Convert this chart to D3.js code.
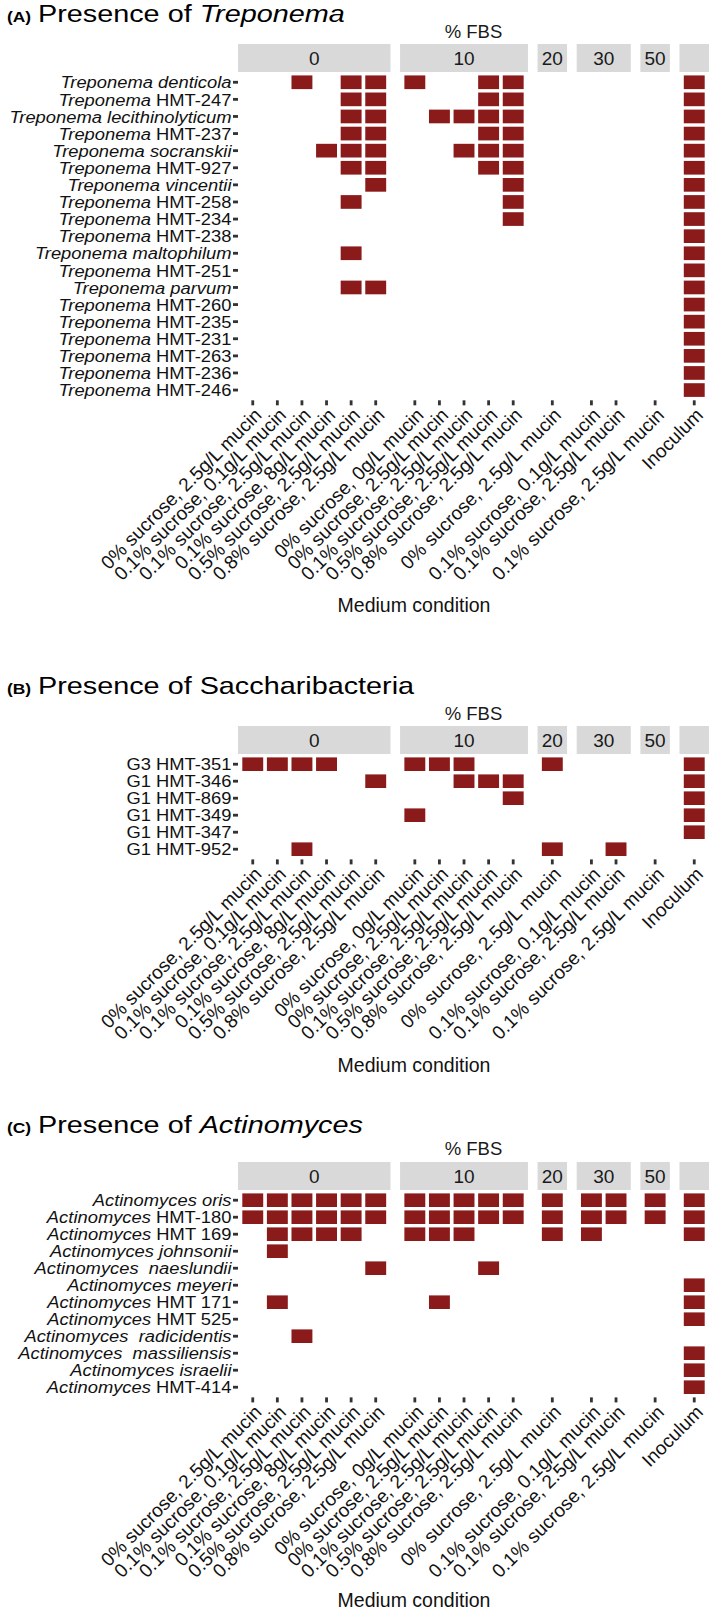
<!DOCTYPE html>
<html>
<head>
<meta charset="utf-8">
<script src="https://cdn.jsdelivr.net/npm/d3@7"></script>
<style>
body{margin:0;background:#fff;}
</style>
</head>
<body>
<div id="chart"></div>
<script>

// ---- data ----
var fbsLevels = ["0", "10", "20", "30", "50", ""];

var fbs0Conditions = ["0% sucrose, 2.5g/L mucin", "0.1% sucrose, 0.1g/L mucin", "0.1% sucrose, 2.5g/L mucin",
	"0.1% sucrose, 8g/L mucin", "0.5% sucrose, 2.5g/L mucin", "0.8% sucrose, 2.5g/L mucin"];
var fbs10Conditions = ["0% sucrose, 0g/L mucin", "0% sucrose, 2.5g/L mucin", "0.1% sucrose, 2.5g/L mucin",
	"0.5% sucrose, 2.5g/L mucin", "0.8% sucrose, 2.5g/L mucin"];
var fbs20Conditions = ["0% sucrose, 2.5g/L mucin"];
var fbs30Conditions = ["0.1% sucrose, 0.1g/L mucin", "0.1% sucrose, 2.5g/L mucin"];
var fbs50Conditions = ["0.1% sucrose, 2.5g/L mucin"];
var inoculumConditions = ["Inoculum"];

var treponemaTaxa = ["Treponema denticola", "Treponema HMT-247", "Treponema lecithinolyticum", "Treponema HMT-237",
	"Treponema socranskii", "Treponema HMT-927", "Treponema vincentii", "Treponema HMT-258", "Treponema HMT-234",
	"Treponema HMT-238", "Treponema maltophilum", "Treponema HMT-251", "Treponema parvum", "Treponema HMT-260",
	"Treponema HMT-235", "Treponema HMT-231", "Treponema HMT-263", "Treponema HMT-236", "Treponema HMT-246"];
// 16 columns: FBS0 x6 | FBS10 x5 | FBS20 | FBS30 x2 | FBS50 | Inoculum
var treponemaPresence = [
	[0,0,1,0,1,1, 1,0,0,1,1, 0, 0,0, 0, 1],
	[0,0,0,0,1,1, 0,0,0,1,1, 0, 0,0, 0, 1],
	[0,0,0,0,1,1, 0,1,1,1,1, 0, 0,0, 0, 1],
	[0,0,0,0,1,1, 0,0,0,1,1, 0, 0,0, 0, 1],
	[0,0,0,1,1,1, 0,0,1,1,1, 0, 0,0, 0, 1],
	[0,0,0,0,1,1, 0,0,0,1,1, 0, 0,0, 0, 1],
	[0,0,0,0,0,1, 0,0,0,0,1, 0, 0,0, 0, 1],
	[0,0,0,0,1,0, 0,0,0,0,1, 0, 0,0, 0, 1],
	[0,0,0,0,0,0, 0,0,0,0,1, 0, 0,0, 0, 1],
	[0,0,0,0,0,0, 0,0,0,0,0, 0, 0,0, 0, 1],
	[0,0,0,0,1,0, 0,0,0,0,0, 0, 0,0, 0, 1],
	[0,0,0,0,0,0, 0,0,0,0,0, 0, 0,0, 0, 1],
	[0,0,0,0,1,1, 0,0,0,0,0, 0, 0,0, 0, 1],
	[0,0,0,0,0,0, 0,0,0,0,0, 0, 0,0, 0, 1],
	[0,0,0,0,0,0, 0,0,0,0,0, 0, 0,0, 0, 1],
	[0,0,0,0,0,0, 0,0,0,0,0, 0, 0,0, 0, 1],
	[0,0,0,0,0,0, 0,0,0,0,0, 0, 0,0, 0, 1],
	[0,0,0,0,0,0, 0,0,0,0,0, 0, 0,0, 0, 1],
	[0,0,0,0,0,0, 0,0,0,0,0, 0, 0,0, 0, 1]
];

var saccharibacteriaTaxa = ["G3 HMT-351", "G1 HMT-346", "G1 HMT-869", "G1 HMT-349", "G1 HMT-347", "G1 HMT-952"];
var saccharibacteriaPresence = [
	[1,1,1,1,0,0, 1,1,1,0,0, 1, 0,0, 0, 1],
	[0,0,0,0,0,1, 0,0,1,1,1, 0, 0,0, 0, 1],
	[0,0,0,0,0,0, 0,0,0,0,1, 0, 0,0, 0, 1],
	[0,0,0,0,0,0, 1,0,0,0,0, 0, 0,0, 0, 1],
	[0,0,0,0,0,0, 0,0,0,0,0, 0, 0,0, 0, 1],
	[0,0,1,0,0,0, 0,0,0,0,0, 1, 0,1, 0, 0]
];

var actinomycesTaxa = ["Actinomyces oris", "Actinomyces HMT-180", "Actinomyces HMT 169", "Actinomyces johnsonii",
	"Actinomyces  naeslundii", "Actinomyces meyeri", "Actinomyces HMT 171", "Actinomyces HMT 525",
	"Actinomyces  radicidentis", "Actinomyces  massiliensis", "Actinomyces israelii", "Actinomyces HMT-414"];
var actinomycesPresence = [
	[1,1,1,1,1,1, 1,1,1,1,1, 1, 1,1, 1, 1],
	[1,1,1,1,1,1, 1,1,1,1,1, 1, 1,1, 1, 1],
	[0,1,1,1,1,0, 1,1,1,0,0, 1, 1,0, 0, 1],
	[0,1,0,0,0,0, 0,0,0,0,0, 0, 0,0, 0, 0],
	[0,0,0,0,0,1, 0,0,0,1,0, 0, 0,0, 0, 0],
	[0,0,0,0,0,0, 0,0,0,0,0, 0, 0,0, 0, 1],
	[0,1,0,0,0,0, 0,1,0,0,0, 0, 0,0, 0, 1],
	[0,0,0,0,0,0, 0,0,0,0,0, 0, 0,0, 0, 1],
	[0,0,1,0,0,0, 0,0,0,0,0, 0, 0,0, 0, 0],
	[0,0,0,0,0,0, 0,0,0,0,0, 0, 0,0, 0, 1],
	[0,0,0,0,0,0, 0,0,0,0,0, 0, 0,0, 0, 1],
	[0,0,0,0,0,0, 0,0,0,0,0, 0, 0,0, 0, 1]
];

// ---- layout ----
var width = 709, height = 1611;
var panelLeft = 238, panelRight = 709, facetGap = 9.6;
var tileColor = "#8B1A1A", stripColor = "#D9D9D9", tickColor = "#333333";
var font = '"Liberation Sans", Arial, Helvetica, sans-serif';

var conditionSets = [fbs0Conditions, fbs10Conditions, fbs20Conditions, fbs30Conditions, fbs50Conditions, inoculumConditions];
var totalCols = d3.sum(conditionSets, function(c){ return c.length; });
var colStep = (panelRight - panelLeft - facetGap*(conditionSets.length-1)) / (totalCols + 0.2*conditionSets.length);

var facets = [];
var fx = panelLeft;
fbsLevels.forEach(function(lvl, i){
	var conds = conditionSets[i];
	var w = (conds.length + 0.2)*colStep;
	facets.push({
		label: lvl,
		conds: conds,
		x0: fx,
		w: w,
		x: d3.scaleBand().domain(conds).range([fx, fx + w]).paddingInner(0).paddingOuter(0.1)
	});
	fx += w + facetGap;
});

// flat list of columns in the same order as the presence rows
var columns = [];
facets.forEach(function(f){
	f.conds.forEach(function(c){ columns.push({facet: f, cond: c}); });
});

var panels = [
	{tag: "(A)", title: "Presence of ", titleItalic: "Treponema", taxa: treponemaTaxa, presence: treponemaPresence,
		titleY: 22, fbsY: 38, stripTop: 44, rowStep: 17.1, xlabY: 612},
	{tag: "(B)", title: "Presence of Saccharibacteria", titleItalic: "", taxa: saccharibacteriaTaxa, presence: saccharibacteriaPresence,
		titleY: 694, fbsY: 720, stripTop: 726, rowStep: 17.0, xlabY: 1072},
	{tag: "(C)", title: "Presence of ", titleItalic: "Actinomyces", taxa: actinomycesTaxa, presence: actinomycesPresence,
		titleY: 1133, fbsY: 1155, stripTop: 1162, rowStep: 17.0, xlabY: 1607}
];

var svg = d3.select('#chart').append('svg')
	.attr('width', width)
	.attr('height', height)
	.style('font-family', font)
	.style('background', '#fff');

// split "Genus species" into italic / upright pieces
function labelParts(name){
	var m = name.match(/^(Treponema|Actinomyces)(\s+)(.*)$/);
	if (!m) return [{t: name, it: false}];
	var restItalic = !/^HMT/.test(m[3]);
	return [{t: m[1], it: true}, {t: m[2] + m[3], it: restItalic}];
}

function drawPanel(p){
	var g = svg.append('g');
	var stripH = 28;
	var stripBottom = p.stripTop + stripH;
	var n = p.taxa.length;
	var y = d3.scaleBand()
		.domain(p.taxa)
		.range([stripBottom, stripBottom + (n + 0.2)*p.rowStep])
		.paddingInner(0)
		.paddingOuter(0.1);
	var panelBottom = stripBottom + (n + 0.2)*p.rowStep;

	// title
	g.append('text')
		.attr('transform', 'translate(7,' + p.titleY + ') scale(1.2,1.05)')
		.style('font-size', '14.5px')
		.style('font-weight', 'bold')
		.text(p.tag);
	var t = g.append('text')
		.attr('transform', 'translate(38,' + p.titleY + ') scale(1.2,1)')
		.style('font-size', '24px')
		.style('white-space', 'pre');
	t.append('tspan').text(p.title);
	if (p.titleItalic) t.append('tspan').style('font-style', 'italic').text(p.titleItalic);

	// "% FBS"
	g.append('text')
		.attr('x', (panelLeft + panelRight)/2)
		.attr('y', p.fbsY)
		.attr('text-anchor', 'middle')
		.style('font-size', '18.5px')
		.style('fill', '#1a1a1a')
		.text('% FBS');

	// strips
	facets.forEach(function(f){
		g.append('rect')
			.attr('x', f.x0).attr('y', p.stripTop)
			.attr('width', f.w).attr('height', stripH)
			.style('fill', stripColor);
		g.append('text')
			.attr('x', f.x0 + f.w/2)
			.attr('y', p.stripTop + stripH/2 + 6.8)
			.attr('text-anchor', 'middle')
			.style('font-size', '19px')
			.style('fill', '#1a1a1a')
			.text(f.label);
	});

	// tiles
	var tileW = 0.85, tileH = 0.8;
	p.presence.forEach(function(row, ri){
		row.forEach(function(v, ci){
			if (!v) return;
			var col = columns[ci];
			var bw = col.facet.x.bandwidth();
			g.append('rect')
				.attr('x', col.facet.x(col.cond) + bw*(1 - tileW)/2)
				.attr('y', y(p.taxa[ri]) + y.bandwidth()*(1 - tileH)/2)
				.attr('width', bw*tileW)
				.attr('height', y.bandwidth()*tileH)
				.style('fill', tileColor);
		});
	});

	// y axis
	p.taxa.forEach(function(name){
		var cy = y(name) + y.bandwidth()/2;
		g.append('rect')
			.attr('x', panelLeft - 5).attr('y', cy - 1.4)
			.attr('width', 5).attr('height', 2.8)
			.style('fill', tickColor);
		var lbl = g.append('text')
			.attr('transform', 'translate(231.5,' + (cy + 6.2) + ') scale(1.08,1)')
			.attr('text-anchor', 'end')
			.style('font-size', '17px')
			.style('white-space', 'pre')
			.style('fill', '#111');
		labelParts(name).forEach(function(part){
			lbl.append('tspan')
				.style('font-style', part.it ? 'italic' : 'normal')
				.text(part.t);
		});
	});

	// x axis
	columns.forEach(function(col){
		var cx = col.facet.x(col.cond) + col.facet.x.bandwidth()/2;
		g.append('rect')
			.attr('x', cx - 1.4).attr('y', panelBottom)
			.attr('width', 2.8).attr('height', 5)
			.style('fill', tickColor);
		g.append('text')
			.attr('transform', 'translate(' + (cx + 10) + ',' + (panelBottom + 16) + ') rotate(-45)')
			.attr('text-anchor', 'end')
			.style('font-size', '19px')
			.style('fill', '#111')
			.text(col.cond);
	});

	g.append('text')
		.attr('x', 414)
		.attr('y', p.xlabY)
		.attr('text-anchor', 'middle')
		.style('font-size', '19.5px')
		.style('fill', '#111')
		.text('Medium condition');
}

panels.forEach(drawPanel);

</script>
</body>
</html>
